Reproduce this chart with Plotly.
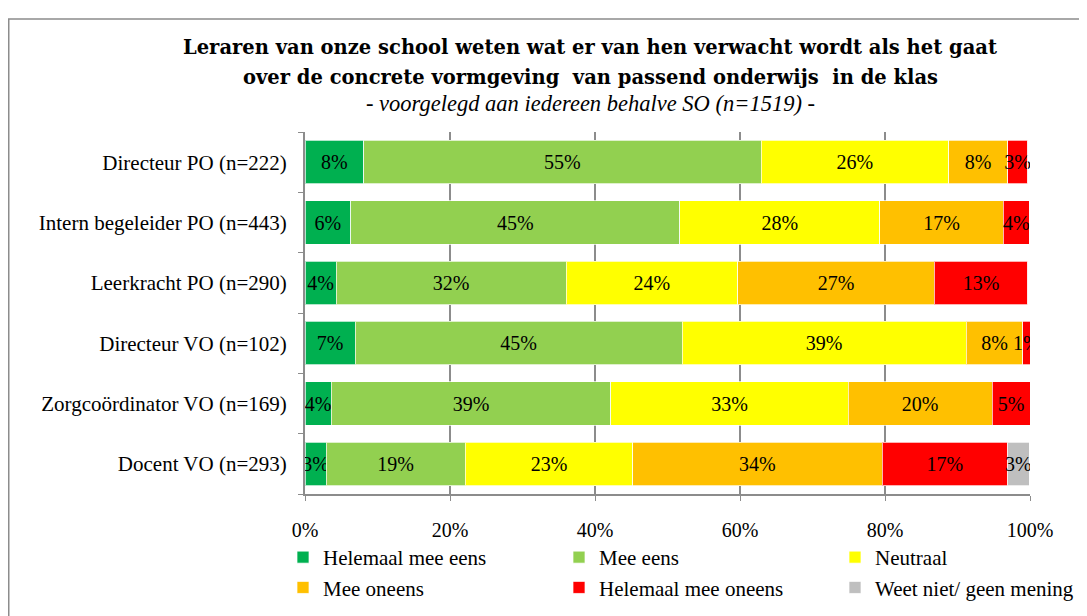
import plotly.graph_objects as go

categories = [
    "Directeur PO (n=222)",
    "Intern begeleider PO (n=443)",
    "Leerkracht PO (n=290)",
    "Directeur VO (n=102)",
    "Zorgcoördinator VO (n=169)",
    "Docent VO (n=293)",
]

helemaal_mee_eens = [8.1, 6.3, 4.3, 6.9, 3.6, 2.9]
mee_eens = [54.8, 45.4, 31.7, 45.1, 38.6, 19.2]
neutraal = [25.9, 27.6, 23.7, 39.2, 32.7, 23.1]
mee_oneens = [8.1, 17.0, 27.1, 7.8, 19.9, 34.4]
helemaal_mee_oneens = [2.8, 3.6, 12.9, 1.0, 5.2, 17.3]
weet_niet = [0, 0, 0, 0, 0, 3.0]

series_names = ["Helemaal mee eens", "Mee eens", "Neutraal",
                "Mee oneens", "Helemaal mee oneens", "Weet niet/ geen mening"]
series_values = [helemaal_mee_eens, mee_eens, neutraal,
                 mee_oneens, helemaal_mee_oneens, weet_niet]
series_colors = ["#00B050", "#92D050", "#FFFF00", "#FFC000", "#FF0000", "#BFBFBF"]
legend_ids = ["legend", "legend2", "legend3", "legend", "legend2", "legend3"]

x_ticks = [0, 20, 40, 60, 80, 100]
x_ticklabels = ["0%", "20%", "40%", "60%", "80%", "100%"]

title_line1 = "Leraren van onze school weten wat er van hen verwacht wordt als het gaat"
title_line2 = "over de concrete vormgeving  van passend onderwijs  in de klas"
subtitle_text = "- voorgelegd aan iedereen behalve SO (n=1519) -"

FONT = "Liberation Serif"
TITLE_FONT = "DejaVu Serif"

# plot-area geometry (figure pixels)
W, H = 1087, 616
L, T, PW, PH = 297, 124, 725, 362
B = H - T - PH
R = W - L - PW


def px_x(px):
    return (px - L) / PW


def px_y(py):
    return (T + PH - py) / PH


fig = go.Figure()
for name, vals, col, lg in zip(series_names, series_values, series_colors, legend_ids):
    texts = [f"{v:.0f}%" if v > 0 else "" for v in vals]
    fig.add_trace(go.Bar(
        name=name,
        y=categories,
        x=vals,
        orientation="h",
        marker=dict(color=col, line=dict(color="rgba(255,255,255,0.7)", width=1)),
        text=texts,
        texttemplate="%{text}",
        textposition="inside",
        insidetextanchor="middle",
        textangle=0,
        textfont=dict(family=FONT, size=20, color="black"),
        hoverinfo="skip",
        legend=lg,
    ))

legend_common = dict(
    orientation="v",
    yanchor="top",
    xanchor="left",
    font=dict(family=FONT, size=21, color="black"),
    itemwidth=30,
    traceorder="normal",
    bgcolor="rgba(0,0,0,0)",
    tracegroupgap=0,
)

fig.update_layout(
    barmode="stack",
    bargap=0.28,
    width=W,
    height=H,
    paper_bgcolor="white",
    plot_bgcolor="white",
    margin=dict(l=L, r=R, t=T, b=B),
    font=dict(family=FONT, size=20, color="black"),
    uniformtext=dict(minsize=20, mode="show"),
    xaxis=dict(
        range=[0, 100],
        tickvals=x_ticks,
        ticktext=x_ticklabels,
        showgrid=True,
        gridcolor="#8C8C8C",
        gridwidth=1.5,
        showline=True,
        linecolor="#8C8C8C",
        linewidth=2,
        ticks="outside",
        ticklen=5,
        tickcolor="#8C8C8C",
        tickfont=dict(family=FONT, size=20),
        ticklabelstandoff=12,
        zeroline=False,
    ),
    yaxis=dict(
        categoryorder="array",
        categoryarray=categories[::-1],
        showline=True,
        linecolor="#8C8C8C",
        linewidth=2,
        ticks="outside",
        tickson="boundaries",
        ticklen=5,
        tickcolor="#8C8C8C",
        tickfont=dict(family=FONT, size=21),
        ticklabelstandoff=12,
    ),
    legend=dict(x=px_x(275), y=px_y(529), **legend_common),
    legend2=dict(x=px_x(551), y=px_y(529), **legend_common),
    legend3=dict(x=px_x(827), y=px_y(529), **legend_common),
    annotations=[
        dict(text="<b>" + title_line1 + "</b>", xref="paper", yref="paper",
             x=px_x(582), y=px_y(39), xanchor="center", yanchor="middle",
             showarrow=False, font=dict(family=TITLE_FONT, size=19.5, color="black")),
        dict(text="<b>" + title_line2 + "</b>", xref="paper", yref="paper",
             x=px_x(582), y=px_y(69), xanchor="center", yanchor="middle",
             showarrow=False, font=dict(family=TITLE_FONT, size=19.5, color="black")),
        dict(text="<i>" + subtitle_text + "</i>", xref="paper", yref="paper",
             x=px_x(582), y=px_y(95), xanchor="center", yanchor="middle",
             showarrow=False, font=dict(family=FONT, size=22.5, color="black")),
    ],
    shapes=[dict(
        type="rect", xref="paper", yref="paper",
        x0=px_x(0.75), x1=px_x(W + 10),
        y0=px_y(H + 10), y1=px_y(11),
        line=dict(color="#8C8C8C", width=1.5),
        fillcolor="rgba(0,0,0,0)",
        layer="below",
    )],
)

fig.write_html("out.html")
